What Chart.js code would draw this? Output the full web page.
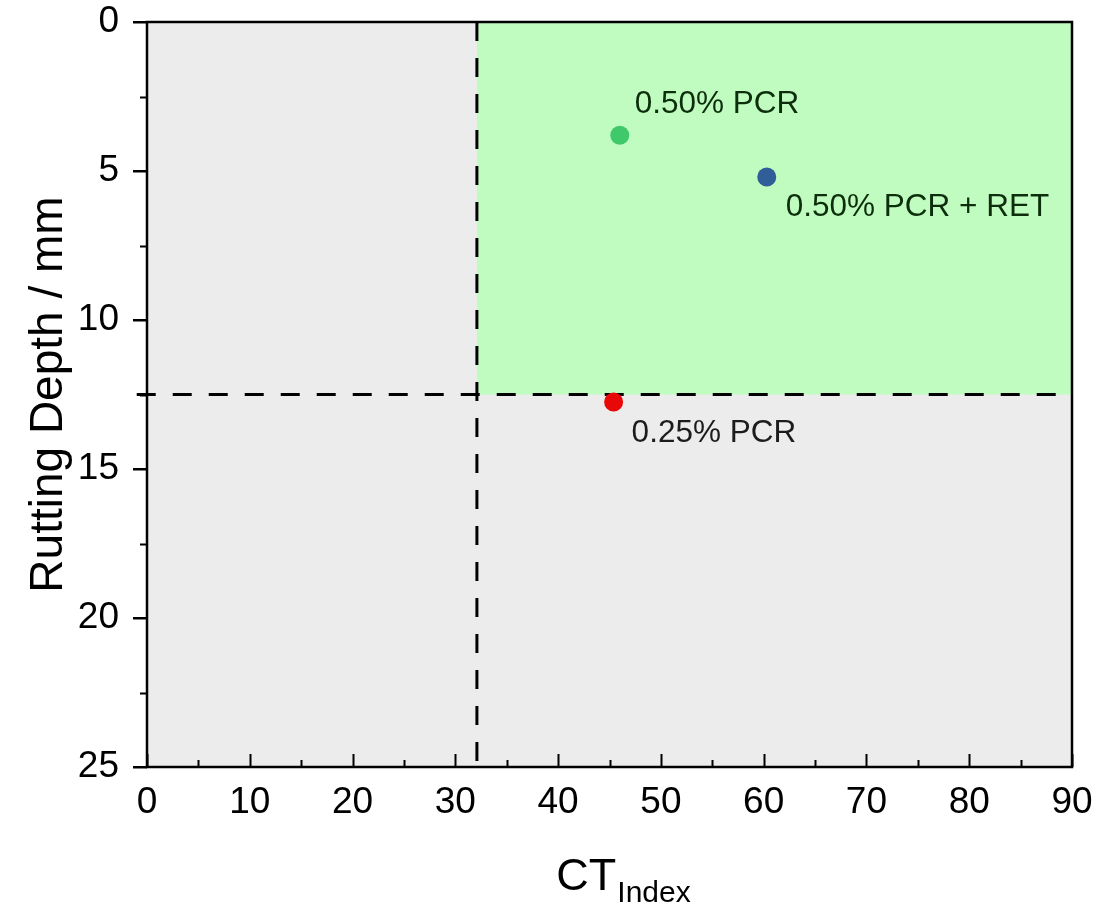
<!DOCTYPE html>
<html><head><meta charset="utf-8">
<script src="https://cdn.jsdelivr.net/npm/chart.js@4/dist/chart.umd.min.js"></script>
<style>html,body{margin:0;padding:0;background:#fff}#wrap{width:1114px;height:905px}</style>
</head><body><div id="wrap"><canvas id="c" width="1114" height="905"></canvas></div>
<script>
// ---- data ----
const categories = ['0.50% PCR', '0.50% PCR + RET', '0.25% PCR'];
const ctIndex = [46.0, 60.3, 45.4];
const ruttingDepth = [3.8, 5.2, 12.75];
const pointColors = ['#3fc96a', '#2f5e99', '#e80808'];
const thresholdCT = 32.1;
const thresholdRut = 12.5;
const xRange = [0, 90];
const yRange = [0, 25];
const xStep = 10;
const yStep = 5;

const FONT = '"Liberation Sans", Arial, Helvetica, sans-serif';

// label offsets (px) relative to point
const labelOffsets = [[15, -22, '#0d2e0d'], [19, 39, '#0d2e0d'], [18, 40, '#1c1c1c']];

const bgPlugin = {
  id: 'bg',
  beforeDatasetsDraw(chart) {
    const {ctx, chartArea: a, scales: {x, y}} = chart;
    ctx.save();
    ctx.fillStyle = '#ececec';
    ctx.fillRect(a.left, a.top, a.right - a.left, a.bottom - a.top);
    const gx = x.getPixelForValue(thresholdCT);
    const gy = y.getPixelForValue(thresholdRut);
    const gy0 = y.getPixelForValue(yRange[0]);
    ctx.fillStyle = '#c0fcc0';
    ctx.fillRect(gx, gy0, x.getPixelForValue(xRange[1]) - gx, gy - gy0);
    ctx.restore();
  }
};

const decoPlugin = {
  id: 'deco',
  afterDatasetsDraw(chart) {
    const {ctx} = chart;
    ctx.save();
    const meta = chart.getDatasetMeta(0);
    ctx.font = '31.5px ' + FONT;
    ctx.textBaseline = 'alphabetic';
    ctx.textAlign = 'left';
    categories.forEach((c, i) => {
      const p = meta.data[i];
      const o = labelOffsets[i];
      ctx.fillStyle = o[2];
      ctx.fillText(c, p.x + o[0], p.y + o[1]);
    });
    ctx.restore();
  },
  afterDraw(chart) {
    const {ctx, chartArea: a, scales: {x, y}} = chart;
    ctx.save();
    ctx.strokeStyle = '#000';
    ctx.lineWidth = 2.5;
    ctx.strokeRect(a.left, a.top, a.right - a.left, a.bottom - a.top);
    ctx.lineWidth = 2;
    ctx.beginPath();
    for (let v = xRange[0]; v <= xRange[1] + 1e-9; v += xStep / 2) {
      const px = Math.round(x.getPixelForValue(v)) + 0.5;
      const major = Math.abs(v / xStep - Math.round(v / xStep)) < 1e-6;
      ctx.moveTo(px, a.bottom);
      ctx.lineTo(px, a.bottom - (major ? 13 : 7));
    }
    for (let v = yRange[0] + yStep / 2; v < yRange[1]; v += yStep) {
      const py = Math.round(y.getPixelForValue(v)) + 0.5;
      ctx.moveTo(a.left, py);
      ctx.lineTo(a.left - 7, py);
    }
    ctx.stroke();
    // y title
    ctx.fillStyle = '#000';
    ctx.font = '46px ' + FONT;
    ctx.textAlign = 'center';
    ctx.textBaseline = 'alphabetic';
    ctx.translate(62, (a.top + a.bottom) / 2);
    ctx.rotate(-Math.PI / 2);
    ctx.fillText('Rutting Depth / mm', 0, 0);
    ctx.setTransform(1, 0, 0, 1, 0, 0);
    // x title with subscript
    ctx.textAlign = 'left';
    ctx.font = '45px ' + FONT;
    const w1 = ctx.measureText('CT').width;
    ctx.font = '30px ' + FONT;
    const w2 = ctx.measureText('Index').width;
    const cx = (a.left + a.right) / 2 + 14;
    const sx = cx - (w1 + w2 + 1) / 2;
    ctx.font = '45px ' + FONT;
    ctx.fillText('CT', sx, 890);
    ctx.font = '30px ' + FONT;
    ctx.fillText('Index', sx + w1 + 1, 902);
    ctx.restore();
  }
};

const points = ctIndex.map((v, i) => ({x: v, y: ruttingDepth[i]}));

new Chart(document.getElementById('c'), {
  type: 'scatter',
  data: {
    datasets: [
      {data: points, backgroundColor: pointColors, borderColor: pointColors, pointRadius: 9.5, pointHoverRadius: 9.5, borderWidth: 0, order: 0},
      {data: [{x: thresholdCT, y: yRange[0]}, {x: thresholdCT, y: yRange[1]}], showLine: true, pointRadius: 0, borderColor: '#000', borderWidth: 3, borderDash: [19, 17], order: 1},
      {data: [{x: xRange[0] - 1, y: thresholdRut}, {x: xRange[1], y: thresholdRut}], showLine: true, pointRadius: 0, borderColor: '#000', borderWidth: 3, borderDash: [19, 17], order: 1, clip: false}
    ]
  },
  options: {
    responsive: false,
    animation: false,
    events: [],
    layout: {padding: {top: 22, right: 42, left: 0, bottom: 0}},
    plugins: {legend: {display: false}, tooltip: {enabled: false}},
    scales: {
      x: {
        type: 'linear', min: xRange[0], max: xRange[1],
        ticks: {stepSize: xStep, color: '#000', font: {family: FONT, size: 37}, padding: 6, maxRotation: 0},
        grid: {display: false},
        border: {display: false},
        afterFit(s) { s.height = 138; s.paddingLeft = 0; s.paddingRight = 0; }
      },
      y: {
        type: 'linear', reverse: true, min: yRange[0], max: yRange[1],
        ticks: {stepSize: yStep, color: '#000', font: {family: FONT, size: 37}, padding: 14},
        grid: {display: true, drawOnChartArea: false, drawTicks: true, tickLength: 14, color: '#000', lineWidth: 2.5},
        border: {display: false},
        afterFit(s) { s.width = 147; s.paddingTop = 0; s.paddingBottom = 0; }
      }
    }
  },
  plugins: [bgPlugin, decoPlugin]
});
</script></body></html>
